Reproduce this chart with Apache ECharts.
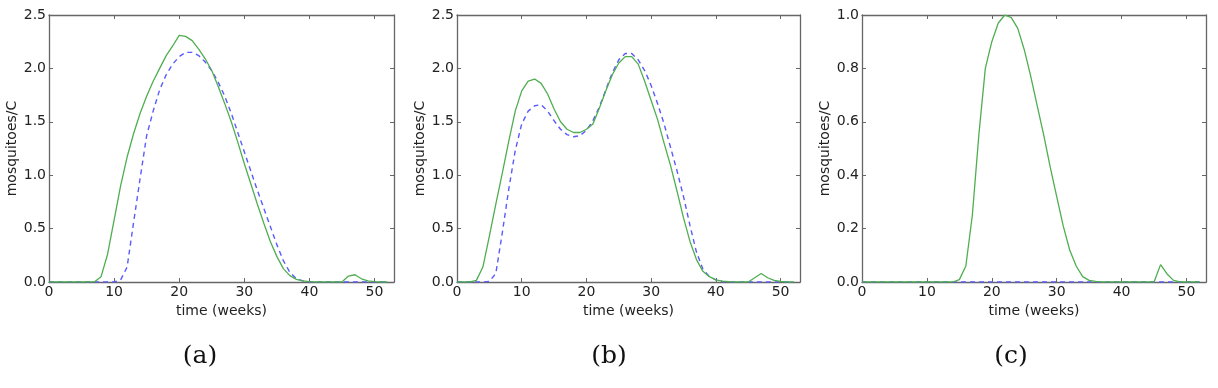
<!DOCTYPE html>
<html>
<head>
<meta charset="utf-8">
<script src="https://cdn.jsdelivr.net/npm/echarts@6/dist/echarts.min.js"></script>
<style>
  html, body { margin: 0; padding: 0; background: #fff; }
  #chart { width: 1218px; height: 388px; }
</style>
</head>
<body>
<div id="chart"></div>
<script>
// weeks on the x axis
const weeks = [0, 1, 2, 3, 4, 5, 6, 7, 8, 9, 10, 11, 12, 13, 14, 15, 16, 17, 18, 19, 20,
  21, 22, 23, 24, 25, 26, 27, 28, 29, 30, 31, 32, 33, 34, 35, 36, 37, 38, 39, 40,
  41, 42, 43, 44, 45, 46, 47, 48, 49, 50, 51, 52];

// panel (a)
const greenA = [0, 0, 0, 0, 0, 0, 0, 0.003, 0.05, 0.26, 0.58, 0.90, 1.17, 1.39, 1.58, 1.74,
  1.88, 2.00, 2.12, 2.21, 2.31, 2.30, 2.26, 2.18, 2.09, 1.98, 1.83, 1.67, 1.50, 1.31, 1.11,
  0.92, 0.73, 0.55, 0.38, 0.24, 0.125, 0.06, 0.025, 0.01, 0.003, 0, 0, 0, 0, 0, 0.056, 0.068,
  0.03, 0.01, 0.003, 0, 0];
const blueA = [0, 0, 0, 0, 0, 0, 0, 0, 0, 0, 0, 0.02, 0.14, 0.56, 0.97, 1.37, 1.60, 1.80,
  1.94, 2.04, 2.11, 2.15, 2.15, 2.12, 2.06, 1.98, 1.87, 1.74, 1.58, 1.40, 1.22, 1.04, 0.86,
  0.69, 0.52, 0.35, 0.20, 0.09, 0.03, 0.01, 0, 0, 0, 0, 0, 0, 0, 0, 0, 0, 0, 0, 0];

// panel (b)
const greenB = [0, 0, 0, 0.015, 0.14, 0.43, 0.73, 1.02, 1.32, 1.60, 1.79, 1.88, 1.90, 1.86,
  1.76, 1.62, 1.50, 1.43, 1.40, 1.40, 1.43, 1.48, 1.63, 1.79, 1.94, 2.05, 2.11, 2.11, 2.04,
  1.88, 1.70, 1.52, 1.30, 1.09, 0.85, 0.60, 0.38, 0.21, 0.10, 0.05, 0.02, 0.008, 0.003, 0,
  0, 0, 0.04, 0.08, 0.04, 0.015, 0.005, 0, 0];
const blueB = [0, 0, 0, 0, 0, 0.005, 0.08, 0.46, 0.87, 1.23, 1.48, 1.60, 1.65, 1.66, 1.60,
  1.51, 1.43, 1.38, 1.36, 1.37, 1.42, 1.51, 1.64, 1.80, 1.96, 2.08, 2.14, 2.14, 2.08, 1.98,
  1.84, 1.67, 1.48, 1.26, 1.04, 0.80, 0.53, 0.28, 0.12, 0.05, 0.02, 0.005, 0, 0, 0, 0, 0,
  0, 0, 0, 0, 0, 0];

// panel (c)
const greenC = [0, 0, 0, 0, 0, 0, 0, 0, 0, 0, 0, 0, 0, 0, 0, 0.009, 0.06, 0.25, 0.55, 0.80,
  0.90, 0.97, 1.00, 0.99, 0.95, 0.87, 0.77, 0.66, 0.55, 0.43, 0.32, 0.21, 0.12, 0.06, 0.02,
  0.006, 0.002, 0, 0, 0, 0, 0, 0, 0, 0, 0, 0.065, 0.03, 0.006, 0, 0, 0, 0];
const blueC = [0, 0, 0, 0, 0, 0, 0, 0, 0, 0, 0, 0, 0, 0, 0, 0, 0, 0, 0, 0, 0, 0, 0, 0, 0,
  0, 0, 0, 0, 0, 0, 0, 0, 0, 0, 0, 0, 0, 0, 0, 0, 0, 0, 0, 0, 0, 0, 0, 0, 0, 0, 0, 0];

const xTicks = [0, 10, 20, 30, 40, 50];
const yMaxes = [2.5, 2.5, 1.0];
const yIntervals = [0.5, 0.5, 0.2];
const captions = ["(a)", "(b)", "(c)"];

const panels = [
  { green: greenA, blue: blueA },
  { green: greenB, blue: blueB },
  { green: greenC, blue: blueC },
];

const frameColor = "#666";
const textColor = "#222";
const font = "DejaVu Sans";
const greenColor = "#4fae4f";
const blueColor = "#5a5aff";

const gridPos = [
  { left: 49, top: 15, width: 345, height: 267 },
  { left: 457, top: 15, width: 343, height: 267 },
  { left: 862, top: 15, width: 344, height: 267 },
];
const captionX = [195, 604, 1006];

const grids = [];
const xAxes = [];
const yAxes = [];
const series = [];
const titles = [];

function pairs(arr) {
  return weeks.map((w, i) => [w, arr[i]]);
}

panels.forEach((p, k) => {
  grids.push(gridPos[k]);
  const lineCfg = { show: true, onZero: false, lineStyle: { color: frameColor, width: 1.3 } };
  const tickCfg = { show: true, inside: true, length: 4, lineStyle: { color: frameColor } };
  // bottom x
  xAxes.push({
    gridIndex: k, type: "value", min: 0, max: 53, interval: 10, position: "bottom",
    name: "time (weeks)", nameLocation: "middle", nameGap: 18,
    nameTextStyle: { color: textColor, fontFamily: font, fontSize: 14 },
    axisLine: lineCfg, axisTick: tickCfg, splitLine: { show: false },
    axisLabel: {
      color: textColor, fontFamily: font, fontSize: 14, margin: 3,
      showMaxLabel: false,
      formatter: (v) => (xTicks.includes(v) ? String(v) : ""),
    },
  });
  // top x (frame + ticks)
  xAxes.push({
    gridIndex: k, type: "value", min: 0, max: 53, interval: 10, position: "top",
    axisLine: lineCfg, axisTick: tickCfg, splitLine: { show: false },
    axisLabel: { show: false },
  });
  // left y
  yAxes.push({
    gridIndex: k, type: "value", min: 0, max: yMaxes[k], interval: yIntervals[k], position: "left",
    name: "mosquitoes/C", nameLocation: "middle", nameGap: 27, nameRotate: 90,
    nameTextStyle: { color: textColor, fontFamily: font, fontSize: 14 },
    axisLine: lineCfg, axisTick: tickCfg, splitLine: { show: false },
    axisLabel: {
      color: textColor, fontFamily: font, fontSize: 14, margin: 3,
      formatter: (v) => v.toFixed(1),
    },
  });
  // right y (frame + ticks)
  yAxes.push({
    gridIndex: k, type: "value", min: 0, max: yMaxes[k], interval: yIntervals[k], position: "right",
    axisLine: lineCfg, axisTick: tickCfg, splitLine: { show: false },
    axisLabel: { show: false },
  });

  series.push({
    type: "line", xAxisIndex: 2 * k, yAxisIndex: 2 * k, data: pairs(p.blue),
    symbol: "none", smooth: false, z: 2,
    lineStyle: { color: blueColor, width: 1.4, type: [5, 4] },
  });
  series.push({
    type: "line", xAxisIndex: 2 * k, yAxisIndex: 2 * k, data: pairs(p.green),
    symbol: "none", smooth: false, z: 3,
    lineStyle: { color: greenColor, width: 1.3 },
  });

  titles.push({
    text: captions[k], left: captionX[k], top: 339, textAlign: "center",
    textStyle: { fontFamily: "DejaVu Serif", fontSize: 25, fontWeight: "normal", color: "#111" },
  });
});

const chart = echarts.init(document.getElementById("chart"), null, { renderer: "canvas" });
chart.setOption({
  animation: false,
  backgroundColor: "#fff",
  title: titles,
  grid: grids,
  xAxis: xAxes,
  yAxis: yAxes,
  series: series,
});
</script>
</body>
</html>
